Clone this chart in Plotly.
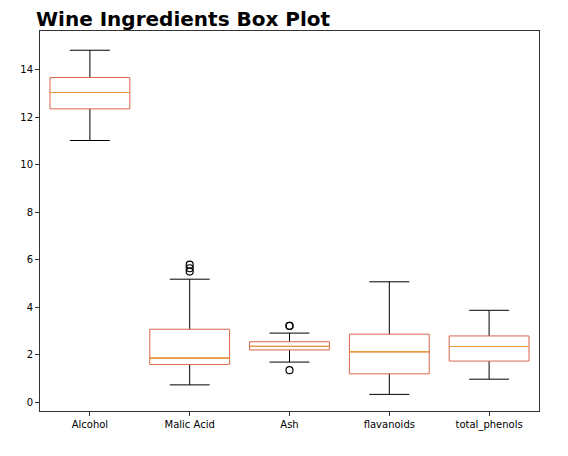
import plotly.graph_objects as go

features = ["Alcohol", "Malic Acid", "Ash", "flavanoids", "total_phenols"]
lower_fence = [11.03, 0.74, 1.70, 0.34, 0.98]
q1 = [12.36, 1.60, 2.21, 1.205, 1.7425]
median = [13.05, 1.865, 2.36, 2.135, 2.355]
q3 = [13.68, 3.0825, 2.5575, 2.875, 2.80]
upper_fence = [14.83, 5.19, 2.92, 5.08, 3.88]

outlier_x = ["Malic Acid", "Malic Acid", "Malic Acid", "Ash", "Ash", "Ash"]
outlier_y = [5.51, 5.65, 5.80, 3.22, 3.23, 1.36]

box_color = "#d9654b"
median_color = "#e89a3c"

fig = go.Figure()

# whiskers and caps (black); the part inside the box gets hidden by the white box fill
fig.add_trace(go.Box(x=features, q1=median, median=median, q3=median,
                     lowerfence=lower_fence, upperfence=upper_fence,
                     line=dict(color="black", width=1), fillcolor="rgba(0,0,0,0)",
                     whiskerwidth=0.5, boxpoints=False, hoverinfo="skip"))

# box outline
fig.add_trace(go.Box(x=features, q1=q1, median=median, q3=q3,
                     lowerfence=q1, upperfence=q3,
                     line=dict(color=box_color, width=1), fillcolor="white",
                     whiskerwidth=0, boxpoints=False, hoverinfo="skip"))

# median line
fig.add_trace(go.Box(x=features, q1=median, median=median, q3=median,
                     lowerfence=median, upperfence=median,
                     line=dict(color=median_color, width=1), fillcolor="rgba(0,0,0,0)",
                     whiskerwidth=0, boxpoints=False, hoverinfo="skip"))

# fliers
fig.add_trace(go.Scatter(x=outlier_x, y=outlier_y, mode="markers",
                         marker=dict(symbol="circle-open", size=7, color="black",
                                     line=dict(width=1.2))))

# page body has an 8px margin, so the figure is a bit smaller than the window
fig.update_layout(
    width=560, height=448,
    margin=dict(l=28, r=29, t=23, b=45),
    paper_bgcolor="white", plot_bgcolor="white",
    boxmode="overlay", boxgap=0.2, boxgroupgap=0, showlegend=False,
    font=dict(family="DejaVu Sans", size=10, color="black"),
    title=dict(text="<b>Wine Ingredients Box Plot</b>", x=0.05, xanchor="left",
               y=0.99, yanchor="top", font=dict(size=20, family="DejaVu Sans")),
)

fig.update_xaxes(showline=True, linecolor="#333", linewidth=1, mirror=True,
                 ticks="outside", ticklen=4, tickcolor="#333", showgrid=False,
                 range=[-0.5, 4.5])
fig.update_yaxes(showline=True, linecolor="#333", linewidth=1, mirror=True,
                 ticks="outside", ticklen=4, tickcolor="#333", showgrid=False,
                 zeroline=False, range=[-0.36, 15.64], dtick=2)

fig.write_html("out.html")
